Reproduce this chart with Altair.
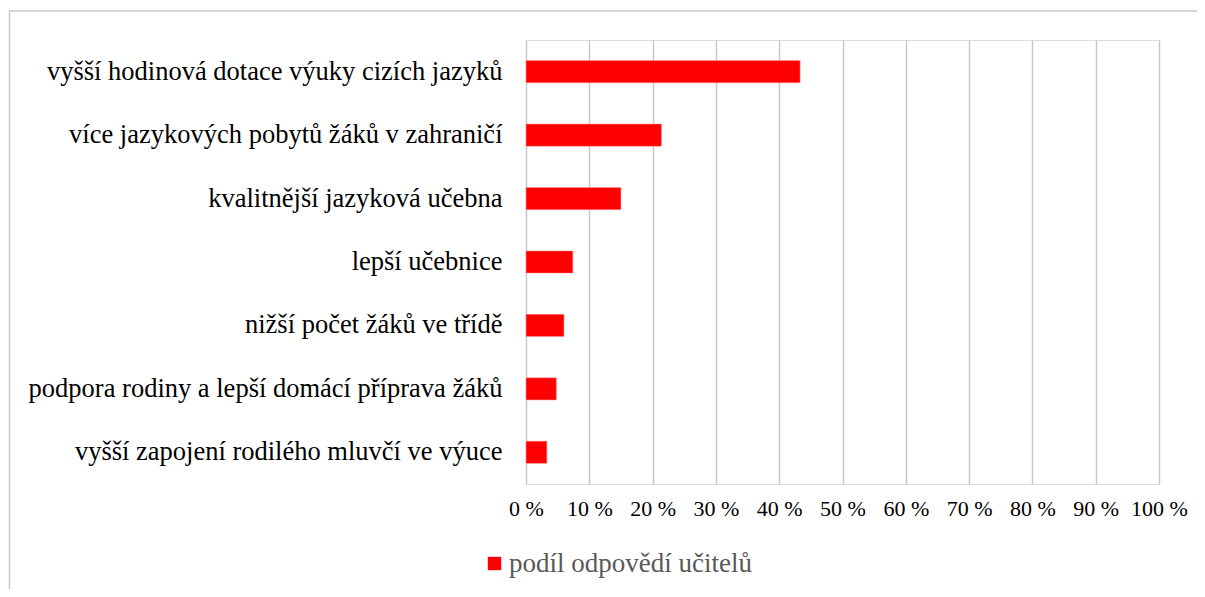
import altair as alt
import pandas as pd

categories = [
    "vyšší hodinová dotace výuky cizích jazyků",
    "více jazykových pobytů žáků v zahraničí",
    "kvalitnější jazyková učebna",
    "lepší učebnice",
    "nižší počet žáků ve třídě",
    "podpora rodiny a lepší domácí příprava žáků",
    "vyšší zapojení rodilého mluvčí ve výuce",
]
values = [0.433, 0.214, 0.150, 0.074, 0.060, 0.048, 0.033]
series_name = "podíl odpovědí učitelů"
x_ticks = [0, 0.1, 0.2, 0.3, 0.4, 0.5, 0.6, 0.7, 0.8, 0.9, 1.0]

df = pd.DataFrame({"kategorie": categories, "hodnota": values, "serie": [series_name] * len(categories)})

W, H = 633, 444
FONT = "Liberation Serif, Times New Roman, serif"

frame = alt.Chart(pd.DataFrame({"a": [0]})).mark_rect(
    fill=None, stroke="#c8c8c8", strokeWidth=1.5, clip=False
).encode(
    x=alt.value(-516.5), x2=alt.value(W + 200),
    y=alt.value(-29), y2=alt.value(H + 200),
)

bars = alt.Chart(df).mark_bar(color="#ff0000", stroke="#ff9999", strokeWidth=0.5).encode(
    y=alt.Y("kategorie:N", sort=categories, title=None,
            scale=alt.Scale(paddingInner=0.65, paddingOuter=0.325),
            axis=alt.Axis(labelFont=FONT, labelFontSize=26.5, labelColor="#000000",
                          labelPadding=24, ticks=False, domain=False, grid=False,
                          labelLimit=520)),
    x=alt.X("hodnota:Q", title=None,
            scale=alt.Scale(domain=[0, 1], nice=False),
            axis=alt.Axis(values=x_ticks, labelExpr="round(datum.value*100) + ' %'",
                          labelFont=FONT, labelFontSize=22, labelColor="#000000",
                          labelPadding=14, ticks=False, domain=False, labelOverlap=False,
                          labelFlush=False,
                          grid=True, gridColor="#c8c8c8", gridWidth=1.5)),
    color=alt.Color("serie:N", scale=alt.Scale(range=["#ff0000"]),
                    legend=alt.Legend(title=None, orient="none", legendX=-45, legendY=510,
                                      symbolType="square", symbolSize=180,
                                      symbolStrokeWidth=0, labelLimit=400,
                                      labelFont=FONT, labelFontSize=27, labelColor="#595959",
                                      labelOffset=1)),
)

chart = alt.layer(frame, bars).properties(
    width=W, height=H,
    autosize=alt.AutoSizeParams(type="none"),
    padding={"left": 518, "top": 32, "right": 38, "bottom": 105},
).configure_view(stroke=None).configure(background="#ffffff")

chart.save("out.html", embed_options={"renderer": "svg", "actions": False})
